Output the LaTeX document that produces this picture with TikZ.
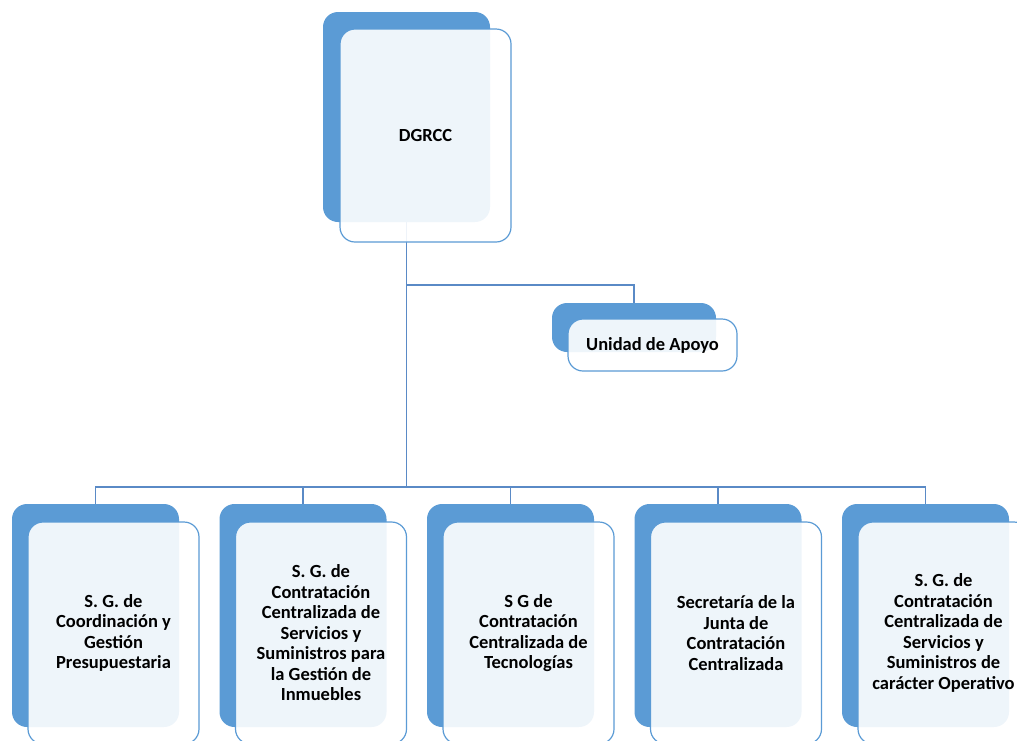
\documentclass[tikz,border=0pt]{standalone}
\usepackage{fontspec}
\setmainfont{Carlito}
\usetikzlibrary{backgrounds}
\definecolor{accent}{HTML}{5B9BD5}
\definecolor{linec}{HTML}{5A8AC6}
\tikzset{
  backbox/.style={draw=none, fill=accent, rounded corners=15pt, inner sep=0pt},
  frontbox/.style={draw=accent, line width=1.2pt, fill=white, fill opacity=0.9, text opacity=1,
    rounded corners=15pt, inner sep=0pt, align=center, font=\fontsize{18.5}{20.5}\selectfont\bfseries},
  conn/.style={draw=linec, line width=1.8pt},
}
\begin{document}
\begin{tikzpicture}[x=1pt,y=-1pt]
\useasboundingbox (0,0) rectangle (1017,740);
% top
\node[backbox, minimum width=167pt, minimum height=210pt] (dgb) at (406.5,117) {};
\node[frontbox, minimum width=171pt, minimum height=213pt] (dg) at (425.5,135.5) {DGRCC};
% unidad
\node[backbox, minimum width=164pt, minimum height=49pt] (uab) at (634,327.5) {};
\node[frontbox, minimum width=169pt, minimum height=52pt] (ua) at (652.5,345) {Unidad de Apoyo};
% bottom boxes
\foreach \i/\txt in {0/{S. G. de\\Coordinación y\\Gestión\\Presupuestaria},
  1/{S. G. de\\Contratación\\Centralizada de\\Servicios y\\Suministros para\\la Gestión de\\Inmuebles},
  2/{S G de\\Contratación\\Centralizada de\\Tecnologías},
  3/{Secretaría de la\\Junta de\\Contratación\\Centralizada},
  4/{S. G. de\\Contratación\\Centralizada de\\Servicios y\\Suministros de\\carácter Operativo}}{
  \node[backbox, minimum width=167pt, minimum height=223pt] (b\i b) at ({95.5+207.5*\i},615.5) {};
  \node[frontbox, minimum width=171pt, minimum height=222pt] (b\i) at ({113.5+207.5*\i},633) {\txt};
}
\coordinate (jt) at (dgb.south |- 0,285);
\coordinate (jb) at (dgb.south |- 0,487);
\begin{scope}[on background layer]
\draw[conn] (dgb.south) -- (jb);
\draw[conn] (jt) -| (uab.north);
\draw[conn] (b0b.north) |- (jb) -| (b4b.north);
\foreach \i in {1,2,3}{ \draw[conn] (b\i b.north) -- (b\i b.north |- jb); }
\end{scope}
\end{tikzpicture}
\end{document}
